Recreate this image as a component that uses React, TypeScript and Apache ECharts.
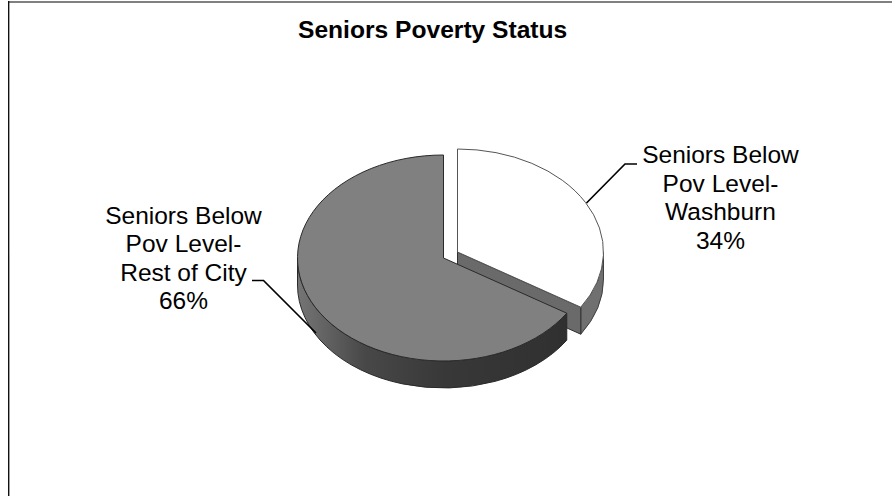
import React, { useEffect, useRef } from "react";
import * as echarts from "echarts";

const TITLE = "Seniors Poverty Status";
const sliceNames = ["Seniors Below\nPov Level-\nWashburn", "Seniors Below\nPov Level-\nRest of City"];
const sliceValues = [34, 66];
const sliceLabels = ["34%", "66%"];

const RX = 146;
const RY = 103;
const DEPTH = 27;
const centers = [
  [457.5, 252],
  [443.5, 258],
];
const labelPos = [
  [720.5, 197.5],
  [183.5, 258],
];
const leaders = [
  [[586.5, 203], [625, 164], [637, 164]],
  [[252, 280.5], [263.5, 280.5], [316, 333]],
];
const FONT = '"Liberation Sans", Arial, sans-serif';

const pt = (c: number[], deg: number, dy = 0) => {
  const a = (deg * Math.PI) / 180;
  return [c[0] + RX * Math.sin(a), c[1] - RY * Math.cos(a) + dy];
};
const arc = (to: number[], large: number, sweep: number) =>
  `A ${RX} ${RY} 0 ${large} ${sweep} ${to[0]} ${to[1]}`;

const wallPath = (c: number[], a0: number, a1: number) => {
  const p0 = pt(c, a0), p1 = pt(c, a1), q1 = pt(c, a1, DEPTH), q0 = pt(c, a0, DEPTH);
  const large = a1 - a0 > 180 ? 1 : 0;
  return `M ${p0[0]} ${p0[1]} ${arc(p1, large, 1)} L ${q1[0]} ${q1[1]} ${arc(q0, large, 0)} Z`;
};
const topPath = (c: number[], a0: number, a1: number) => {
  const p0 = pt(c, a0), p1 = pt(c, a1);
  const large = a1 - a0 > 180 ? 1 : 0;
  return `M ${c[0]} ${c[1]} L ${p0[0]} ${p0[1]} ${arc(p1, large, 1)} Z`;
};
const cutPath = (c: number[], a: number) => {
  const p = pt(c, a);
  return `M ${c[0]} ${c[1]} L ${p[0]} ${p[1]} L ${p[0]} ${p[1] + DEPTH} L ${c[0]} ${c[1] + DEPTH} Z`;
};

export default function App() {
  const ref = useRef<HTMLDivElement>(null);
  useEffect(() => {
    const chart = echarts.init(ref.current!, null, { renderer: "svg" });
    const total = sliceValues.reduce((s, v) => s + v, 0);
    const renderItem = (params: any, api: any) => {
      const i = params.dataIndex;
      const value = api.value(0);
      const before = sliceValues.slice(0, i).reduce((s, v) => s + v, 0);
      const a0 = (before / total) * 360;
      const a1 = a0 + (value / total) * 360;
      const c = centers[i];
      const line = { stroke: "#2a2a2a", lineWidth: 1 };
      const children: any[] = [];
      if (i === 0) {
        children.push({
          type: "path",
          shape: { pathData: wallPath(c, 90, a1) },
          style: { fill: "#707070", stroke: "#404040", lineWidth: 1 },
        });
        children.push({
          type: "path",
          shape: { pathData: cutPath(c, a1) },
          style: { fill: "#6a6a6a", stroke: "#303030", lineWidth: 1 },
        });
        children.push({
          type: "path",
          shape: { pathData: topPath(c, a0, a1) },
          style: { fill: "#ffffff", stroke: "#555555", lineWidth: 1 },
        });
      } else {
        children.push({
          type: "path",
          shape: { pathData: wallPath(c, a0, 270) },
          style: {
            fill: {
              type: "linear", x: 1, y: 0, x2: 0, y2: 0,
              colorStops: [
                { offset: 0, color: "#303030" },
                { offset: 0.45, color: "#383838" },
                { offset: 0.75, color: "#484848" },
                { offset: 1, color: "#757575" },
              ],
            },
            ...line,
          },
        });
        children.push({
          type: "path",
          shape: { pathData: topPath(c, a0, a1) },
          style: { fill: "#808080", ...line },
        });
      }
      children.push({
        type: "text",
        style: {
          text: `${sliceNames[i]}\n${sliceLabels[i]}`,
          x: labelPos[i][0],
          y: labelPos[i][1],
          align: "center",
          verticalAlign: "middle",
          font: `24.5px ${FONT}`,
          lineHeight: 28.4,
          fill: "#000",
        },
      });
      children.push({
        type: "polyline",
        shape: { points: leaders[i] },
        style: { stroke: "#000", lineWidth: 1.7, fill: "none" },
      });
      return { type: "group", children };
    };
    chart.setOption({
      animation: false,
      backgroundColor: "#ffffff",
      title: {
        text: TITLE,
        left: 298,
        top: 17,
        padding: 0,
        textStyle: { fontFamily: FONT, fontSize: 24.6, fontWeight: "bold", color: "#000" },
      },
      graphic: [
        { type: "rect", shape: { x: 8, y: 1, width: 884, height: 2 }, style: { fill: "#808080" } },
        { type: "rect", shape: { x: 8, y: 1, width: 1.4, height: 495 }, style: { fill: "#111111" } },
      ],
      series: [
        {
          type: "custom",
          coordinateSystem: "none",
          silent: true,
          renderItem,
          data: sliceValues.map((v, i) => ({ name: sliceNames[i], value: [v] })),
        },
      ],
    });
    return () => chart.dispose();
  }, []);
  return <div ref={ref} style={{ position: "absolute", left: 0, top: 0, width: 892, height: 496 }} />;
}
